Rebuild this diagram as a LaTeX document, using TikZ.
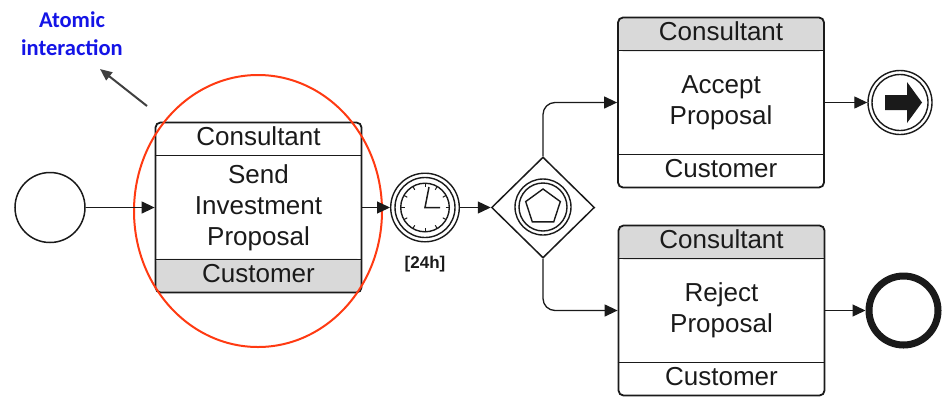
\documentclass[tikz,border=0pt]{standalone}
\usepackage{fontspec}
\setmainfont{Liberation Sans}
\newfontfamily\calib{Carlito}
\usetikzlibrary{arrows.meta,shapes.geometric,calc}
\definecolor{ln}{HTML}{1A1A1A}
\definecolor{band}{HTML}{D9D9D9}
\definecolor{blu}{HTML}{1414E6}
\definecolor{redo}{HTML}{FF3A12}
\definecolor{agray}{HTML}{404040}
\newcommand\mybands[1]{\draw[ln,line width=1.6pt] ($(#1.north west)+(0,34)$) -- ($(#1.north east)+(0,34)$);\draw[ln,line width=1.6pt] ($(#1.south west)+(0,-34)$) -- ($(#1.south east)+(0,-34)$);}
\begin{document}
\begin{tikzpicture}[x=1pt,y=-1pt,
  flow/.style={draw=ln, line width=1.3pt, -{Triangle[length=13pt,width=12pt]}},
  taskbox/.style={draw=ln, line width=1.8pt, rounded corners=5pt, minimum width=206pt, minimum height=170pt, inner sep=0pt},
  topgray/.style={path picture={\fill[band] (path picture bounding box.north west) rectangle ([yshift=-34pt]path picture bounding box.north east);}},
  botgray/.style={path picture={\fill[band] (path picture bounding box.south west) rectangle ([yshift=34pt]path picture bounding box.south east);}},
  lbl/.style={font=\fontsize{26}{31}\selectfont, align=center, inner sep=0pt, text=ln},
  ring/.style={circle, draw=ln, line width=1.4pt, inner sep=0pt},
]
\useasboundingbox (0,0) rectangle (949,413);

% start event
\node[ring, line width=1.5pt, minimum size=70pt] (s) at (50,207.5) {};

% task 1
\node[taskbox, botgray] (t1) at (258.5,207.5) {};
\mybands{t1}
\node[lbl] (t1h) at ($(t1.north)+(0,15)$) {Consultant};
\node[lbl] (t1b) at (t1.center) {Send\\Investment\\Proposal};
\node[lbl] (t1f) at ($(t1.south)+(0,-20)$) {Customer};

% red ellipse
\node[ellipse, draw=redo, line width=2pt, minimum width=248pt, minimum height=272pt, inner sep=0pt] (el) at (258,211) {};

% timer
\node[ring, minimum size=68.6pt] (tm) at (425,207.5) {};
\node[ring, minimum size=60pt] (tm2) at (tm) {};
\node[ring, minimum size=48.6pt] (tm3) at (tm) {};
\foreach \a in {0,30,...,330} \draw[ln, line width=1pt] ($(tm)+(\a:20.5)$) -- ($(tm)+(\a:24)$);
\coordinate (hm) at (429,187);
\coordinate (hh) at (440,207.5);
\draw[ln, line width=1.5pt] (hm) -- (tm.center) -- (hh);
\node[font=\bfseries\fontsize{17}{20}\selectfont, text=ln, inner sep=0pt] (lab) at (425,264) {[24h]};

% gateway
\node[diamond, draw=ln, line width=1.5pt, minimum width=103pt, minimum height=101pt, inner sep=0pt] (g) at (543,207.5) {};
\node[ring, minimum size=56pt] (g1) at (543,207) {};
\node[ring, minimum size=48pt] (g2) at (543,207) {};
\node[regular polygon, regular polygon sides=5, draw=ln, line width=1.4pt, minimum size=36.4pt, inner sep=0pt] (pg) at (543,207.2) {};

% accept task
\node[taskbox, topgray] (t2) at (721,102.5) {};
\mybands{t2}
\node[lbl] (t2h) at ($(t2.north)+(0,15)$) {Consultant};
\node[lbl] (t2b) at (t2.center) {Accept\\Proposal};
\node[lbl] (t2f) at ($(t2.south)+(0,-20)$) {Customer};

% reject task
\node[taskbox, topgray] (t3) at (721.5,310.5) {};
\mybands{t3}
\node[lbl] (t3h) at ($(t3.north)+(0,15)$) {Consultant};
\node[lbl] (t3b) at (t3.center) {Reject\\Proposal};
\node[lbl] (t3f) at ($(t3.south)+(0,-20)$) {Customer};

% end message event
\node[ring, minimum size=64pt] (e1) at (900,102.5) {};
\node[ring, minimum size=56pt] (e1b) at (e1) {};
\fill[ln] (885,95) -- (907,95) -- (907,82) -- (922,102.5) -- (907,123) -- (907,110) -- (885,110) -- cycle;

% end event
\node[circle, draw=ln, line width=7pt, minimum size=69pt, inner sep=0pt] (e2) at (903.5,310.5) {};

% flows
\draw[flow] (s) -- (t1);
\draw[flow] (t1) -- (tm);
\draw[flow] (tm) -- (g);
\draw[flow, rounded corners=12pt] (g.north) |- (t2.west);
\draw[flow, rounded corners=12pt] (g.south) |- (t3.west);
\draw[flow] (t2) -- (e1);
\draw[flow] (t3) -- (e2);

% annotation
\node[font=\calib\bfseries\fontsize{22.5}{28}\selectfont, text=blu, align=center, inner sep=0pt] (ai) at (72,34) {Atomic\\interaction};
\coordinate (ap) at (147,106);
\coordinate (aq) at (100,69);
\draw[agray, line width=2pt, -{Triangle[length=12pt,width=10pt]}] (ap) -- (aq);
\end{tikzpicture}
\end{document}
